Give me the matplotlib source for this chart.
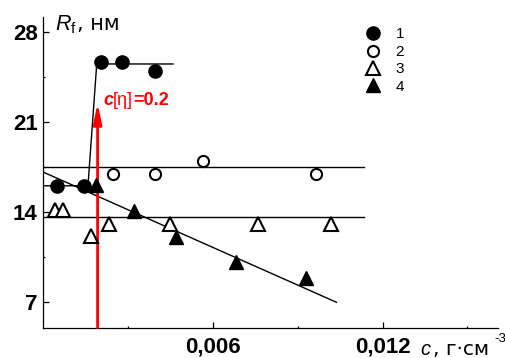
import matplotlib
matplotlib.use("Agg")
import matplotlib.pyplot as plt

plt.rcParams['font.family'] = ['Liberation Sans', 'DejaVu Sans']
plt.rcParams['mathtext.fontset'] = 'custom'
plt.rcParams['mathtext.rm'] = 'Liberation Sans'
plt.rcParams['mathtext.it'] = 'Liberation Sans:italic'

# ---- data ----
x1 = [0.00048, 0.00144, 0.00204, 0.00278, 0.00395]
y1 = [16.05, 16.05, 25.7, 25.7, 25.0]
fit1_x = [0.0, 0.00158, 0.00189, 0.00459]
fit1_y = [16.05, 16.05, 25.53, 25.53]

x2 = [0.00245, 0.00395, 0.00565, 0.00964]
y2 = [17.0, 17.0, 18.0, 17.0]
fit2_x = [0.0, 0.01133]
fit2_y = [17.53, 17.53]

x3 = [0.00041, 0.00071, 0.00169, 0.00232, 0.00448, 0.0076, 0.01016]
y3 = [14.15, 14.15, 12.15, 13.1, 13.1, 13.1, 13.1]
fit3_x = [0.0, 0.01133]
fit3_y = [13.64, 13.64]

x4 = [0.00185, 0.00322, 0.00471, 0.00683, 0.00931]
y4 = [16.1, 14.1, 12.1, 10.1, 8.85]
fit4_x = [0.0, 0.01037]
fit4_y = [17.11, 6.98]

c_eta = 0.00192
arrow_top = 22.5
labels = ['1', '2', '3', '4']
xticks = [0.006, 0.012]
xticklabels = ['0,006', '0,012']
yticks = [7, 14, 21, 28]

fig = plt.figure(figsize=(5.06, 3.58), dpi=100)
ax = fig.add_axes([0.0856, 0.0846, 0.985 - 0.0856, 0.953 - 0.0846])
ax.set_xlim(0, 0.0161)
ax.set_ylim(5.0, 29.2)

lw_fit = 1.0
ax.plot(fit1_x, fit1_y, color='black', lw=lw_fit)
ax.plot(fit2_x, fit2_y, color='black', lw=lw_fit)
ax.plot(fit3_x, fit3_y, color='black', lw=lw_fit)
ax.plot(fit4_x, fit4_y, color='black', lw=lw_fit)

# red arrow
ax.annotate('', xy=(c_eta, arrow_top), xytext=(c_eta, 5.0),
            arrowprops=dict(arrowstyle='-|>,head_length=1.2,head_width=0.25',
                            color='red', lw=2, shrinkA=0, shrinkB=0),
            zorder=3)

p1, = ax.plot(x1, y1, ls='none', marker='o', ms=9.5, mfc='black', mec='black', zorder=4)
p2, = ax.plot(x2, y2, ls='none', marker='o', ms=8.0, mfc='white', mec='black', mew=1.5, zorder=4)
p3, = ax.plot(x3, y3, ls='none', marker='^', ms=10, mfc='white', mec='black', mew=1.5, zorder=4)
p4, = ax.plot(x4, y4, ls='none', marker='^', ms=10.5, mfc='black', mec='black', zorder=4)

# red label
t1 = ax.text(0.00212, 22.02, 'c', color='red', fontsize=13, fontweight='bold',
             fontstyle='italic', va='bottom', ha='left')
t2 = ax.annotate('[η]', xy=(1, 0), xycoords=t1, color='red', fontsize=13,
                 va='bottom', ha='left')
t3 = ax.annotate('=0.2', xy=(1, 0), xycoords=t2, color='red', fontsize=13,
                 fontweight='bold', va='bottom', ha='left')

# spines and ticks
for s in ['top', 'right']:
    ax.spines[s].set_visible(False)
for s in ['left', 'bottom']:
    ax.spines[s].set_linewidth(0.9)
ax.set_xticks(xticks)
ax.set_xticklabels(xticklabels)
ax.set_xticks([0.003, 0.009, 0.015], minor=True)
ax.set_yticks(yticks)
ax.set_yticks([10.5, 17.5, 24.5], minor=True)
ax.tick_params(axis='both', which='major', direction='in', length=4, width=0.9,
               labelsize=16)
ax.tick_params(axis='both', which='minor', direction='in', length=1.5, width=0.9)
ax.tick_params(axis='x', which='major', pad=6)
ax.tick_params(axis='y', which='major', pad=4)
for lab in ax.get_xticklabels() + ax.get_yticklabels():
    lab.set_fontweight('bold')

# axis labels
fig.text(55 / 506, 1 - 30.5 / 358, r'$R_{\mathrm{f}}$', fontsize=15.5, ha='left', va='baseline')
fig.text(77 / 506, 1 - 30.5 / 358, ', нм', fontsize=15, ha='left', va='baseline',
         family=['DejaVu Sans'])
fig.text(420 / 506, 1 - 355 / 358, r'$c$', fontsize=14.5, ha='left', va='baseline')
fig.text(433 / 506, 1 - 355 / 358, ', г·см', fontsize=14.5, ha='left', va='baseline',
         family=['DejaVu Sans'])
fig.text(494 / 506, 1 - 342 / 358, '-3', fontsize=9.5, ha='left', va='baseline')

# legend
leg = ax.legend([p1, p2, p3, p4], labels, loc='upper left',
                bbox_to_anchor=(365 / 506, 1 - 27.5 / 358), bbox_transform=fig.transFigure,
                frameon=False, fontsize=11, handlelength=1.0, handletextpad=1.0,
                labelspacing=0.22, borderpad=0, borderaxespad=0)

fig.savefig('out.png', dpi=100)
